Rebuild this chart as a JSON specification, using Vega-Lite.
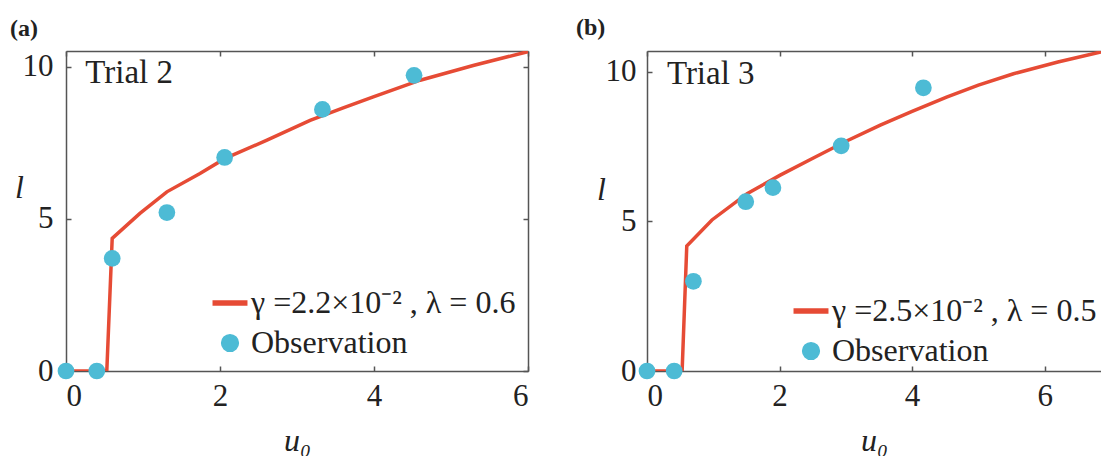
{
  "$schema": "https://vega.github.io/schema/vega-lite/v6.json",
  "padding": {"left": 10, "top": 16, "right": 0, "bottom": 0},
  "background": "white",
  "bounds": "flush",
  "spacing": 119,
  "config": {
    "view": {"stroke": null},
    "font": "Liberation Serif",
    "axis": {
      "grid": false,
      "domainColor": "#555555",
      "domainWidth": 1.5,
      "tickColor": "#555555",
      "tickWidth": 1.5,
      "tickSize": -5,
      "labelFont": "Liberation Serif",
      "labelFontSize": 31,
      "labelColor": "#222222",
      "titleFont": "Liberation Serif",
      "titleFontSize": 32,
      "titleFontStyle": "italic",
      "titleFontWeight": "normal",
      "titleColor": "#222222"
    },
    "legend": {
      "title": null,
      "orient": "bottom-right",
      "labelFont": "Liberation Serif",
      "labelFontSize": 32,
      "labelColor": "#222222",
      "labelLimit": 500,
      "symbolSize": 280,
      "rowPadding": 8,
      "labelOffset": 5,
      "offset": 12
    }
  },
  "resolve": {
    "scale": {"color": "independent", "shape": "independent"},
    "legend": {"color": "independent", "shape": "independent"}
  },
  "hconcat": [
    {
      "width": 462,
      "height": 320,
      "title": {"text": "(a)", "anchor": "start", "frame": "group", "dx": -56, "fontSize": 24, "fontWeight": "bold", "font": "Liberation Serif", "color": "#222222", "offset": 9},
      "resolve": {"axis": {"x": "independent", "y": "independent"}},
      "layer": [
        {
          "data": {"values": [
            {"u": 0, "l": 0, "series": "γ =2.2×10⁻² , λ = 0.6"},
            {"u": 0.53, "l": 0, "series": "γ =2.2×10⁻² , λ = 0.6"},
            {"u": 0.6, "l": 4.36, "series": "γ =2.2×10⁻² , λ = 0.6"},
            {"u": 0.96, "l": 5.18, "series": "γ =2.2×10⁻² , λ = 0.6"},
            {"u": 1.31, "l": 5.89, "series": "γ =2.2×10⁻² , λ = 0.6"},
            {"u": 1.74, "l": 6.49, "series": "γ =2.2×10⁻² , λ = 0.6"},
            {"u": 2.06, "l": 6.98, "series": "γ =2.2×10⁻² , λ = 0.6"},
            {"u": 2.61, "l": 7.59, "series": "γ =2.2×10⁻² , λ = 0.6"},
            {"u": 3.17, "l": 8.24, "series": "γ =2.2×10⁻² , λ = 0.6"},
            {"u": 3.6, "l": 8.65, "series": "γ =2.2×10⁻² , λ = 0.6"},
            {"u": 4.0, "l": 9.02, "series": "γ =2.2×10⁻² , λ = 0.6"},
            {"u": 4.6, "l": 9.56, "series": "γ =2.2×10⁻² , λ = 0.6"},
            {"u": 5.3, "l": 10.05, "series": "γ =2.2×10⁻² , λ = 0.6"},
            {"u": 6.0, "l": 10.5, "series": "γ =2.2×10⁻² , λ = 0.6"}
          ]},
          "mark": {"type": "line", "strokeWidth": 3.5, "clip": true},
          "encoding": {
            "x": {"field": "u", "type": "quantitative", "scale": {"domain": [0, 6], "nice": false, "zero": false},
              "axis": {"orient": "bottom", "values": [0, 2, 4, 6], "labelPadding": 15, "title": "u₀", "titleY": 79, "titleBaseline": "alphabetic"}},
            "y": {"field": "l", "type": "quantitative", "scale": {"domain": [0, 10.52], "nice": false, "zero": false},
              "axis": {"orient": "left", "values": [0, 5, 10], "labelPadding": 18, "title": "l", "titleAngle": 0, "titleX": -47, "titleY": 146, "titleAlign": "center", "titleBaseline": "alphabetic"}},
            "color": {"field": "series", "type": "nominal",
              "scale": {"domain": ["γ =2.2×10⁻² , λ = 0.6", "Observation"], "range": ["#E64B35", "#4DBBD5"]}}
          }
        },
        {
          "data": {"values": [
            {"u": 0, "l": 0, "series": "Observation"},
            {"u": 0.40, "l": 0, "series": "Observation"},
            {"u": 0.60, "l": 3.70, "series": "Observation"},
            {"u": 1.31, "l": 5.21, "series": "Observation"},
            {"u": 2.06, "l": 7.02, "series": "Observation"},
            {"u": 3.33, "l": 8.60, "series": "Observation"},
            {"u": 4.52, "l": 9.72, "series": "Observation"}
          ]},
          "mark": {"type": "point", "filled": true, "size": 280, "opacity": 1},
          "encoding": {
            "x": {"field": "u", "type": "quantitative",
              "axis": {"orient": "top", "values": [0, 2, 4, 6], "labels": false, "title": null}},
            "y": {"field": "l", "type": "quantitative",
              "axis": {"orient": "right", "values": [0, 5, 10], "labels": false, "title": null}},
            "color": {"field": "series", "type": "nominal"},
            "shape": {"field": "series", "type": "nominal",
              "scale": {"domain": ["γ =2.2×10⁻² , λ = 0.6", "Observation"], "range": ["M-2,-0.25H2V0.25H-2Z", "circle"]}}
          }
        },
        {
          "data": {"values": [{"u": 0.25, "l": 9.46, "label": "Trial 2"}]},
          "mark": {"type": "text", "align": "left", "baseline": "alphabetic", "fontSize": 33, "font": "Liberation Serif", "color": "#222222"},
          "encoding": {
            "x": {"field": "u", "type": "quantitative", "axis": null},
            "y": {"field": "l", "type": "quantitative", "axis": null},
            "text": {"field": "label"}
          }
        }
      ]
    },
    {
      "width": 454,
      "height": 320,
      "title": {"text": "(b)", "anchor": "start", "frame": "group", "dx": -71, "fontSize": 24, "fontWeight": "bold", "font": "Liberation Serif", "color": "#222222", "offset": 10},
      "resolve": {"axis": {"x": "independent", "y": "independent"}},
      "layer": [
        {
          "data": {"values": [
            {"u": 0, "l": 0, "series": "γ =2.5×10⁻² , λ = 0.5"},
            {"u": 0.53, "l": 0, "series": "γ =2.5×10⁻² , λ = 0.5"},
            {"u": 0.6, "l": 4.18, "series": "γ =2.5×10⁻² , λ = 0.5"},
            {"u": 0.98, "l": 5.05, "series": "γ =2.5×10⁻² , λ = 0.5"},
            {"u": 1.51, "l": 5.93, "series": "γ =2.5×10⁻² , λ = 0.5"},
            {"u": 2.01, "l": 6.55, "series": "γ =2.5×10⁻² , λ = 0.5"},
            {"u": 2.51, "l": 7.12, "series": "γ =2.5×10⁻² , λ = 0.5"},
            {"u": 3.02, "l": 7.7, "series": "γ =2.5×10⁻² , λ = 0.5"},
            {"u": 3.52, "l": 8.22, "series": "γ =2.5×10⁻² , λ = 0.5"},
            {"u": 4.0, "l": 8.68, "series": "γ =2.5×10⁻² , λ = 0.5"},
            {"u": 4.52, "l": 9.16, "series": "γ =2.5×10⁻² , λ = 0.5"},
            {"u": 5.0, "l": 9.56, "series": "γ =2.5×10⁻² , λ = 0.5"},
            {"u": 5.53, "l": 9.94, "series": "γ =2.5×10⁻² , λ = 0.5"},
            {"u": 6.2, "l": 10.33, "series": "γ =2.5×10⁻² , λ = 0.5"},
            {"u": 6.85, "l": 10.67, "series": "γ =2.5×10⁻² , λ = 0.5"}
          ]},
          "mark": {"type": "line", "strokeWidth": 3.5, "clip": true},
          "encoding": {
            "x": {"field": "u", "type": "quantitative", "scale": {"domain": [0, 6.85], "nice": false, "zero": false},
              "axis": {"orient": "bottom", "values": [0, 2, 4, 6], "labelPadding": 15, "title": "u₀", "titleY": 79, "titleBaseline": "alphabetic"}},
            "y": {"field": "l", "type": "quantitative", "scale": {"domain": [0, 10.7], "nice": false, "zero": false},
              "axis": {"orient": "left", "values": [0, 5, 10], "labelPadding": 16, "title": "l", "titleAngle": 0, "titleX": -46, "titleY": 148, "titleAlign": "center", "titleBaseline": "alphabetic"}},
            "color": {"field": "series", "type": "nominal",
              "scale": {"domain": ["γ =2.5×10⁻² , λ = 0.5", "Observation"], "range": ["#E64B35", "#4DBBD5"]}}
          }
        },
        {
          "data": {"values": [
            {"u": 0, "l": 0, "series": "Observation"},
            {"u": 0.41, "l": 0, "series": "Observation"},
            {"u": 0.70, "l": 3.0, "series": "Observation"},
            {"u": 1.49, "l": 5.66, "series": "Observation"},
            {"u": 1.90, "l": 6.13, "series": "Observation"},
            {"u": 2.93, "l": 7.53, "series": "Observation"},
            {"u": 4.17, "l": 9.47, "series": "Observation"}
          ]},
          "mark": {"type": "point", "filled": true, "size": 280, "opacity": 1},
          "encoding": {
            "x": {"field": "u", "type": "quantitative",
              "axis": {"orient": "top", "values": [0, 2, 4, 6], "labels": false, "title": null}},
            "y": {"field": "l", "type": "quantitative", "axis": null},
            "color": {"field": "series", "type": "nominal"},
            "shape": {"field": "series", "type": "nominal",
              "scale": {"domain": ["γ =2.5×10⁻² , λ = 0.5", "Observation"], "range": ["M-2,-0.25H2V0.25H-2Z", "circle"]},
              "legend": {"offset": 4}}
          }
        },
        {
          "data": {"values": [{"u": 0.30, "l": 9.61, "label": "Trial 3"}]},
          "mark": {"type": "text", "align": "left", "baseline": "alphabetic", "fontSize": 33, "font": "Liberation Serif", "color": "#222222"},
          "encoding": {
            "x": {"field": "u", "type": "quantitative", "axis": null},
            "y": {"field": "l", "type": "quantitative", "axis": null},
            "text": {"field": "label"}
          }
        }
      ]
    }
  ]
}
